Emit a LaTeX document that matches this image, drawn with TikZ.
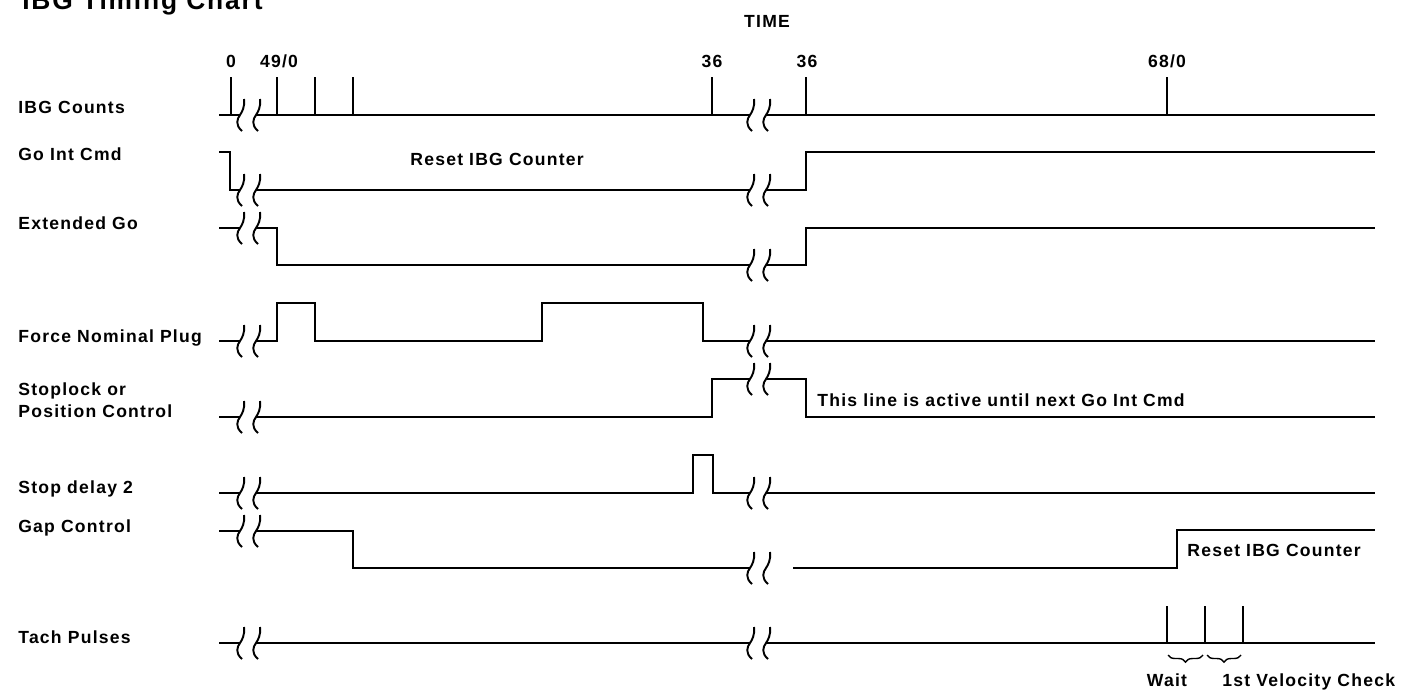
\documentclass[tikz,border=0pt]{standalone}
\usepackage{fontspec}
\setmainfont{Liberation Sans}[LetterSpace=7]
\usepackage{tikz}
\usetikzlibrary{decorations.pathreplacing}

\begin{document}
\begin{tikzpicture}[x=0.02cm, y=-0.02cm, font=\bfseries,
    sig/.style={line width=1.1pt},
    lbl/.style={anchor=base west, inner sep=0pt},
    num/.style={anchor=base, inner sep=0pt},
    brc/.style={line width=0.8pt, decorate, decoration={brace, mirror, amplitude=4pt}},
    brk/.pic={\draw[sig] (4,-16) .. controls (5,-8) and (2,-3) .. (0,0) .. controls (-3,4) and (-5,10) .. (2,16);}]
\useasboundingbox (0,0) rectangle (1421,691);
% page units: 1 = one pixel of the 1421x691 chart
\node[lbl, font=\fontsize{15}{18}\bfseries] (title) at (22,9) {IBG Timing Chart};
\node[num] (time) at (767,27) {TIME};
\node[num] (t0) at (231,67) {0};
\node[num] (t49) at (279,67) {49/0};
\node[num] (t36a) at (712,67) {36};
\node[num] (t36b) at (807,67) {36};
\node[num] (t68) at (1167,67) {68/0};

% signal names
\node[lbl] (lcount) at (18,113) {IBG Counts};
\node[lbl] (lgo) at (18,160) {Go Int Cmd};
\node[lbl] (lext) at (18,229) {Extended Go};
\node[lbl] (lforce) at (18,342) {Force Nominal Plug};
\node[lbl] (lstop1) at (18,395) {Stoplock or};
\node[lbl] (lstop2) at (18,417) {Position Control};
\node[lbl] (ldelay) at (18,493) {Stop delay 2};
\node[lbl] (lgap) at (18,532) {Gap Control};
\node[lbl] (ltach) at (18,643) {Tach Pulses};

% break marks (left pair / right pair levels)
\foreach \ya/\yb in {115/115,190/190,228/265,341/341,417/379,493/493,531/568,643/643} {
  \pic at (240,\ya) {brk};
  \pic at (256,\ya) {brk};
  \pic at (750,\yb) {brk};
  \pic at (766,\yb) {brk};
}

% IBG Counts
\draw[sig] (219,115) -- (240,115) (256,115) -- (750,115) (766,115) -- (1375,115);
\foreach \x in {231,277,315,353,712,806,1167} \draw[sig] (\x,115) -- (\x,77);
% Go Int Cmd
\draw[sig] (219,152) -- (230,152) -- (230,190) -- (240,190) (256,190) -- (750,190)
  (766,190) -- (806,190) -- (806,152) -- (1375,152);
\node[lbl] (reset1) at (410,165) {Reset IBG Counter};
% Extended Go
\draw[sig] (219,228) -- (240,228) (256,228) -- (277,228) -- (277,265) -- (750,265)
  (766,265) -- (806,265) -- (806,228) -- (1375,228);
% Force Nominal Plug
\draw[sig] (219,341) -- (240,341) (256,341) -- (277,341) -- (277,303) -- (315,303) -- (315,341)
  -- (542,341) -- (542,303) -- (703,303) -- (703,341) -- (750,341) (766,341) -- (1375,341);
% Stoplock or Position Control
\draw[sig] (219,417) -- (240,417) (256,417) -- (712,417) -- (712,379) -- (750,379)
  (766,379) -- (806,379) -- (806,417) -- (1375,417);
\node[lbl] (active) at (817,406) {This line is active until next Go Int Cmd};
% Stop delay 2
\draw[sig] (219,493) -- (240,493) (256,493) -- (693,493) -- (693,455) -- (713,455) -- (713,493)
  -- (750,493) (766,493) -- (1375,493);
% Gap Control
\draw[sig] (219,531) -- (240,531) (256,531) -- (353,531) -- (353,568) -- (750,568)
  (793,568) -- (1177,568) -- (1177,530) -- (1375,530);
\node[lbl] (reset2) at (1187,556) {Reset IBG Counter};
% Tach Pulses
\draw[sig] (219,643) -- (240,643) (256,643) -- (750,643) (766,643) -- (1375,643);
\foreach \x in {1167,1205,1243} \draw[sig] (\x,643) -- (\x,606);
\draw[brc] (1168,655) -- (1203,655);
\draw[brc] (1207,655) -- (1241,655);
\node[num] (wait) at (1167,686) {Wait};
\node[lbl] (velo) at (1222,686) {1st Velocity Check};
\end{tikzpicture}
\end{document}
